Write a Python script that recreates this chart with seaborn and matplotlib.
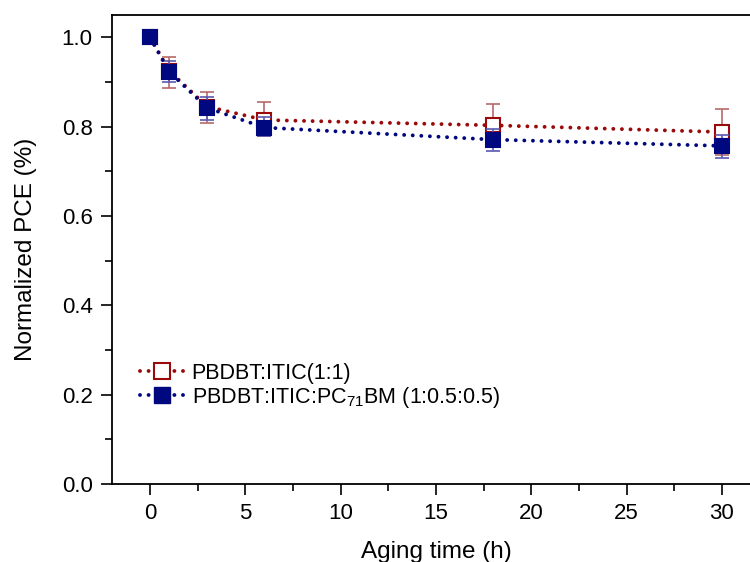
import matplotlib
matplotlib.use("Agg")
import matplotlib.pyplot as plt
import seaborn as sns
import pandas as pd
import numpy as np
from matplotlib.ticker import MultipleLocator

time_h = [0, 1, 3, 6, 18, 30]
pce_itic = [1.0, 0.925, 0.845, 0.815, 0.803, 0.788]
err_itic_up = [0.0, 0.032, 0.032, 0.040, 0.048, 0.051]
err_itic_dn = [0.0, 0.038, 0.036, 0.035, 0.045, 0.051]
pce_pcbm = [1.0, 0.923, 0.842, 0.798, 0.771, 0.757]
err_pcbm_up = [0.0, 0.025, 0.024, 0.024, 0.024, 0.025]
err_pcbm_dn = [0.0, 0.024, 0.026, 0.019, 0.025, 0.028]
labels = ["PBDBT:ITIC(1:1)", "PBDBT:ITIC:PC$_{71}$BM (1:0.5:0.5)"]

sns.set_style("ticks")
plt.rcParams['font.family'] = ['Liberation Sans', 'DejaVu Sans']
plt.rcParams['mathtext.fontset'] = 'custom'
plt.rcParams['mathtext.rm'] = 'Liberation Sans'
plt.rcParams['mathtext.it'] = 'Liberation Sans'
plt.rcParams['text.color'] = 'black'
plt.rcParams['axes.labelcolor'] = 'black'
plt.rcParams['xtick.color'] = 'black'
plt.rcParams['ytick.color'] = 'black'

df = pd.DataFrame({
    "time": time_h * 2,
    "pce": pce_itic + pce_pcbm,
    "blend": [labels[0]] * len(time_h) + [labels[1]] * len(time_h),
})

fig = plt.figure(figsize=(7.5, 5.62), dpi=100)
ax = fig.add_axes([0.1493, 0.1388, 0.864, 0.8345])

red = "#9B0A0A"
blue = "#00087F"
DOT = (0, (0.01, 2.2))
LW = 2.8

sns.lineplot(data=df, x="time", y="pce", hue="blend", style="blend",
             palette=[red, blue], markers=["s", "s"], dashes=False,
             ax=ax, legend=False, markersize=9.5, linewidth=LW)

lines = list(ax.get_lines())
for ln in lines:
    ln.set_linestyle(DOT)
    ln.set_dash_capstyle("round")
l_red, l_blue = lines[0], lines[1]
l_red.set_markerfacecolor("white")
l_red.set_markeredgecolor(red)
l_red.set_markeredgewidth(1.5)
l_red.set_zorder(3)
l_blue.set_markerfacecolor(blue)
l_blue.set_markeredgecolor(blue)
l_blue.set_markeredgewidth(1.5)
l_blue.set_zorder(5)

ax.errorbar(time_h, pce_itic, yerr=[err_itic_dn, err_itic_up], fmt="none",
            ecolor="#B86A6A", elinewidth=1.2, capsize=5, capthick=1.2, zorder=2)
ax.errorbar(time_h, pce_pcbm, yerr=[err_pcbm_dn, err_pcbm_up], fmt="none",
            ecolor="#5A5AB0", elinewidth=1.2, capsize=5, capthick=1.2, zorder=4)

ax.set_xlim(-2, 32)
ax.set_ylim(0, 1.05)
ax.xaxis.set_major_locator(MultipleLocator(5))
ax.xaxis.set_minor_locator(MultipleLocator(2.5))
ax.yaxis.set_major_locator(MultipleLocator(0.2))
ax.yaxis.set_minor_locator(MultipleLocator(0.1))
ax.yaxis.set_major_formatter(matplotlib.ticker.FormatStrFormatter("%.1f"))
ax.tick_params(which="major", direction="out", length=8, width=1.2,
               labelsize=16, pad=6, colors="black")
ax.tick_params(which="minor", direction="out", length=5, width=1.2)
ax.tick_params(top=False, right=False, which="both")
for s in ax.spines.values():
    s.set_linewidth(1.3)
    s.set_color("black")

ax.set_xlabel("Aging time (h)", fontsize=17.5, labelpad=12)
ax.set_ylabel("Normalized PCE (%)", fontsize=17.5, labelpad=18)

handles = [
    matplotlib.lines.Line2D([], [], color=red, linestyle=DOT, linewidth=LW,
                            dash_capstyle="round", marker="s", markersize=11,
                            markerfacecolor="white", markeredgecolor=red, markeredgewidth=1.5),
    matplotlib.lines.Line2D([], [], color=blue, linestyle=DOT, linewidth=LW,
                            dash_capstyle="round", marker="s", markersize=11,
                            markerfacecolor=blue, markeredgecolor=blue),
]
ax.legend(handles, labels, loc="lower left", bbox_to_anchor=(0.03, 0.14),
          frameon=False, fontsize=15.5, handlelength=2.0, handletextpad=0.4,
          labelspacing=0.05, borderaxespad=0)

fig.savefig("out.png", dpi=100)
